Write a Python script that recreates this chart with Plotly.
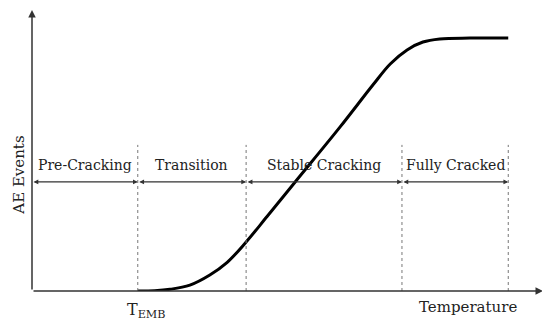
import plotly.graph_objects as go

# Data (arbitrary units: temperature 0-100, AE events 0-100)
temp = [20.7, 24.0, 27.0, 30.9, 34.8, 38.2, 41.7, 46.0, 51.5, 60.3, 66.7, 70.1, 73.4, 76.5, 79.8, 85.7, 93.2]
ae = [0.0, 0.1, 0.6, 2.1, 5.7, 10.2, 17.0, 26.5, 38.8, 58.4, 73.3, 80.8, 85.8, 88.6, 89.7, 90.0, 90.0]
boundaries = [0.0, 20.7, 41.9, 72.4, 93.2]
region_labels = ["Pre-Cracking", "Transition", "Stable Cracking", "Fully Cracked"]
arrow_y = 38.8
label_y = 45.0
dash_top = 52.0

fig = go.Figure()
fig.add_trace(go.Scatter(x=temp, y=ae, mode="lines",
                         line=dict(color="black", width=3, shape="spline", smoothing=1.0),
                         hoverinfo="skip", showlegend=False))

shapes = []
for b in boundaries[1:]:
    shapes.append(dict(type="line", x0=b, x1=b, y0=0, y1=dash_top, xref="x", yref="y",
                       line=dict(color="#777", width=1, dash="3px,3px")))

ann = []
font = dict(family="DejaVu Serif", size=14, color="#222")
big = dict(family="DejaVu Serif", size=15, color="#222")
# axes arrows
ann.append(dict(x=0, y=100, ax=0, ay=0, xref="x", yref="y", axref="x", ayref="y", text="",
                showarrow=True, arrowhead=2, arrowsize=1, arrowwidth=1.5, arrowcolor="#333", standoff=0))
ann.append(dict(x=100, y=0, ax=0, ay=0, xref="x", yref="y", axref="x", ayref="y", text="",
                showarrow=True, arrowhead=2, arrowsize=1, arrowwidth=1.5, arrowcolor="#333", standoff=0))
for i, lab in enumerate(region_labels):
    x0, x1 = boundaries[i], boundaries[i + 1]
    ann.append(dict(x=x1, y=arrow_y, ax=x0, ay=arrow_y, xref="x", yref="y", axref="x", ayref="y",
                    text="", showarrow=True, arrowhead=2, startarrowhead=2, arrowside="end+start",
                    arrowsize=0.8, startarrowsize=0.8, arrowwidth=1.2, arrowcolor="#333",
                    standoff=0, startstandoff=0))
    ann.append(dict(x=(x0 + x1) / 2, y=label_y, xref="x", yref="y", text=lab, showarrow=False,
                    font=font, xanchor="center", yanchor="middle"))

ann.append(dict(x=-0.026, y=0.413, xref="paper", yref="paper", text="AE Events", textangle=-90,
                showarrow=False, font=big, xanchor="center", yanchor="middle", borderpad=0))
ann.append(dict(x=0.224, y=-0.068, xref="paper", yref="paper", text="T<sub>EMB</sub>", showarrow=False,
                font=dict(family="DejaVu Serif", size=16, color="#222"), xanchor="center", yanchor="middle"))
ann.append(dict(x=0.854, y=-0.057, xref="paper", yref="paper", text="Temperature", showarrow=False,
                font=big, xanchor="center", yanchor="middle"))

fig.update_layout(
    width=550, height=326,
    margin=dict(l=24, r=15, t=2, b=43),
    paper_bgcolor="white", plot_bgcolor="white",
    xaxis=dict(range=[0, 100], visible=False, fixedrange=True),
    yaxis=dict(range=[0, 100], visible=False, fixedrange=True),
    shapes=shapes, annotations=ann,
)
fig.write_html("out.html")
